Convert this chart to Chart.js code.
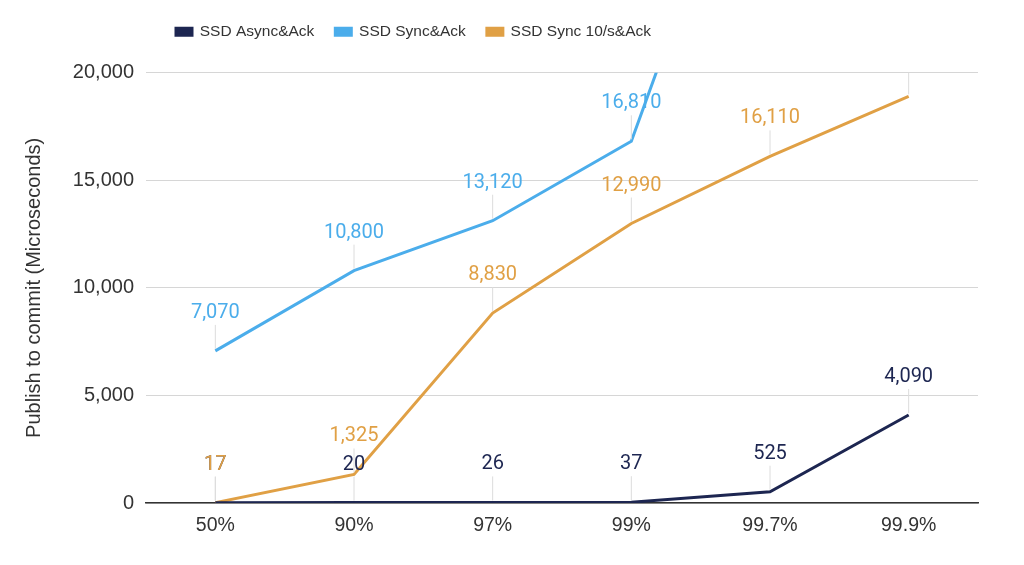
<!DOCTYPE html>
<html>
<head>
<meta charset="utf-8">
<script src="https://cdn.jsdelivr.net/npm/chart.js@4"></script>
<style>
  html, body { margin: 0; padding: 0; background: #fff; }
  #wrap { width: 1024px; height: 565px; }
</style>
</head>
<body>
<div id="wrap"><canvas id="chart" width="1024" height="565"></canvas></div>
<script>
// ---- Data ----
const percentiles = ['50%', '90%', '97%', '99%', '99.7%', '99.9%'];
const asyncAck    = [17, 20, 26, 37, 525, 4090];
const syncAck     = [7070, 10800, 13120, 16810, 34600, 52000];
const sync10Ack   = [17, 1325, 8830, 12990, 16110, 18900];
const yTicks      = [0, 5000, 10000, 15000, 20000];

const NAVY   = '#1d2651';
const BLUE   = '#4badeb';
const ORANGE = '#e0a045';
const TEXT   = '#333333';

const fmt = v => v.toLocaleString('en-US');

// ---- Point labels with a thin leader line ----
const pointLabels = {
  id: 'pointLabels',
  afterLayout(chart) {
    // legend starts a little right of the plot's left edge
    chart.legend.left += 9;
    chart.legend.right += 9;
  },
  afterDatasetsDraw(chart) {
    const { ctx, chartArea } = chart;
    ctx.save();
    ctx.beginPath();
    ctx.rect(chartArea.left, chartArea.top, chartArea.right - chartArea.left, chartArea.bottom - chartArea.top);
    ctx.clip();
    ctx.font = '20px Roboto';
    ctx.textAlign = 'center';
    ctx.textBaseline = 'middle';
    [0, 1, 2].forEach(di => {
      const ds = chart.data.datasets[di];
      const meta = chart.getDatasetMeta(di);
      meta.data.forEach((pt, i) => {
        const y = pt.y;
        if (y < chartArea.top) return;
        const ly = y - 38;
        ctx.strokeStyle = '#dcdcdc';
        ctx.lineWidth = 1;
        ctx.beginPath();
        ctx.moveTo(pt.x, y - 2);
        ctx.lineTo(pt.x, ly + 12);
        ctx.stroke();
        ctx.fillStyle = ds.borderColor;
        ctx.fillText(fmt(ds.data[i]), pt.x, ly);
      });
    });
    ctx.restore();
  }
};

new Chart(document.getElementById('chart'), {
  type: 'line',
  data: {
    labels: percentiles,
    datasets: [
      { label: 'SSD Async&Ack', data: asyncAck, borderColor: NAVY, backgroundColor: NAVY },
      { label: 'SSD Sync&Ack', data: syncAck, borderColor: BLUE, backgroundColor: BLUE },
      { label: 'SSD Sync 10/s&Ack', data: sync10Ack, borderColor: ORANGE, backgroundColor: ORANGE },
    ].map(d => Object.assign(d, { borderWidth: 3, pointRadius: 0, tension: 0, fill: false }))
  },
  options: {
    responsive: false,
    animation: false,
    layout: { padding: { left: 22, right: 46, top: 3, bottom: 0 } },
    plugins: {
      legend: {
        position: 'top',
        align: 'start',
        fullSize: false,
        labels: {
          color: TEXT,
          font: { family: 'Liberation Sans', size: 15.5 },
          boxWidth: 16,
          boxHeight: 7,
          padding: 21,
        }
      },
      // empty spacer between legend and plot
      subtitle: {
        display: true,
        text: ' ',
        position: 'top',
        weight: 500,
        fullSize: false,
        font: { size: 1 },
        padding: { top: 0, bottom: 22 }
      },
      tooltip: { enabled: false }
    },
    scales: {
      x: {
        offset: true,
        grid: { display: false },
        border: { color: '#333', width: 1.5 },
        ticks: { color: TEXT, font: { family: 'Liberation Sans', size: 19.5 }, padding: 3 },
        afterFit: s => { s.height = 62; }
      },
      y: {
        min: 0,
        max: 20000,
        afterBuildTicks: s => { s.ticks = yTicks.map(v => ({ value: v })); },
        grid: { color: '#d6d6d6', lineWidth: 1, drawTicks: false },
        border: { display: false },
        ticks: { color: TEXT, font: { family: 'Liberation Sans', size: 20 }, padding: 12, callback: v => fmt(v) },
        title: { display: true, text: 'Publish to commit (Microseconds)', color: TEXT, font: { family: 'Liberation Sans', size: 20 }, padding: { top: 0, bottom: 3 } },
        afterFit: s => { s.width = 124; }
      }
    }
  },
  plugins: [pointLabels]
});
</script>
</body>
</html>
